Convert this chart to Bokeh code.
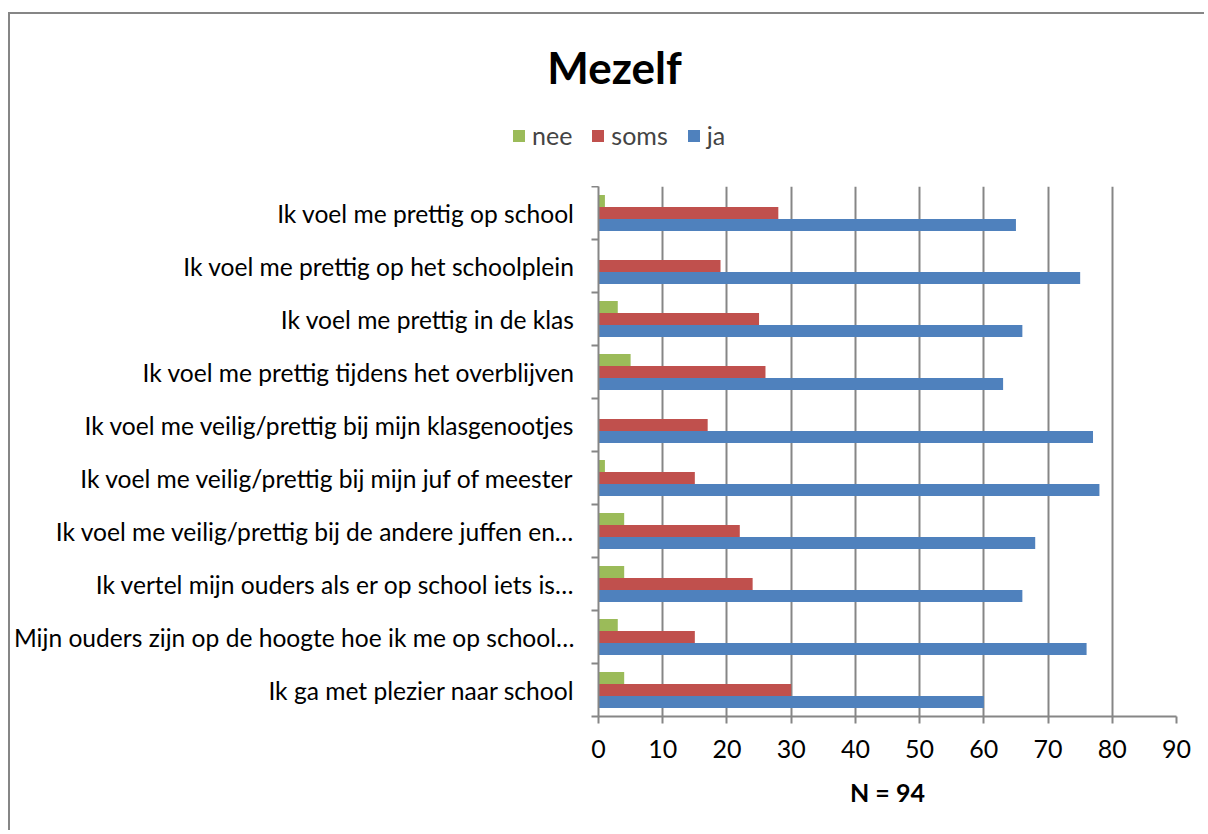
from bokeh.plotting import figure
from bokeh.models import (ColumnDataSource, Range1d, LinearAxis, FixedTicker, Legend,
                          LegendItem, Label)
from bokeh.transform import dodge
from bokeh.embed import file_html
from bokeh.resources import INLINE

categories = [
    "Ik voel me prettig op school",
    "Ik voel me prettig op het schoolplein",
    "Ik voel me prettig in de klas",
    "Ik voel me prettig tijdens het overblijven",
    "Ik voel me veilig/prettig bij mijn klasgenootjes",
    "Ik voel me veilig/prettig bij mijn juf of meester",
    "Ik voel me veilig/prettig bij de andere juffen en\u2026",
    "Ik vertel mijn ouders als er op school iets is\u2026",
    "Mijn ouders zijn op de hoogte hoe ik me op school\u2026",
    "Ik ga met plezier naar school",
]
series_names = ["nee", "soms", "ja"]
nee = [1, 0, 3, 5, 0, 1, 4, 4, 3, 4]
soms = [28, 19, 25, 26, 17, 15, 22, 24, 15, 30]
ja = [65, 75, 66, 63, 77, 78, 68, 66, 76, 60]
x_ticks = [0, 10, 20, 30, 40, 50, 60, 70, 80, 90]
title_text = "Mezelf"
x_label = "N = 94"

colors = {"nee": "#9BBB59", "soms": "#C0504D", "ja": "#4F81BD"}
FONT = "Lato"
GRAY = "#868686"
W = 1196
TOP_H = 174
LEFT = 587
RIGHT = 30

n = len(categories)
ypos = [n - 0.5 - i for i in range(n)]  # first category at the top
src = ColumnDataSource(dict(cat=categories, y=ypos, nee=nee, soms=soms, ja=ja))

bh = 0.226
offsets = {"nee": bh, "soms": 0.0, "ja": -bh}

# ---------- header figure: title + legend (its own root, frame = whole header) ----------
top = figure(width=W, height=TOP_H, x_range=Range1d(0, W), y_range=Range1d(0, TOP_H),
             output_backend="svg", toolbar_location=None,
             x_axis_location=None, y_axis_location=None,
             min_border_left=0, min_border_right=0, min_border_top=0, min_border_bottom=0)
top.outline_line_color = None
top.grid.visible = False
top.styles = {"border-left": f"2px solid {GRAY}", "border-top": f"2px solid {GRAY}",
              "margin-top": "12px", "margin-left": "8px"}
legend_renderers = {}
for s in series_names:
    legend_renderers[s] = top.hbar(y=dodge("y", offsets[s]), right=s, left=0, height=bh,
                                   source=src, fill_color=colors[s], line_color=None,
                                   visible=False)
legend = Legend(items=[LegendItem(label=s, renderers=[legend_renderers[s]]) for s in series_names],
                orientation="horizontal", location=(501, 38),
                label_text_font=FONT, label_text_font_size="25px",
                glyph_width=15, glyph_height=15, label_standoff=6, spacing=18,
                padding=0, margin=0, border_line_color=None, background_fill_alpha=0)
top.add_layout(legend, "center")
top.add_layout(Label(x=604, y=TOP_H - 52, text=title_text, text_align="center",
                     text_baseline="middle", text_font=FONT, text_font_size="44px",
                     text_font_style="bold", text_color="black"))

# ---------- chart figure ----------
p = figure(width=W, height=644,
           y_range=Range1d(0, n),
           x_range=Range1d(x_ticks[0], x_ticks[-1]),
           output_backend="svg", toolbar_location=None,
           x_axis_location=None, y_axis_location=None,
           min_border_left=LEFT, min_border_right=RIGHT,
           min_border_top=0, min_border_bottom=114)
p.outline_line_color = None
p.styles = {"border-left": f"2px solid {GRAY}", "margin-left": "8px"}

for s in series_names:
    p.hbar(y=dodge("y", offsets[s]), right=s, left=0,
           height=bh, source=src, fill_color=colors[s], line_color=None)

# separator ticks axis (adjacent to frame)
sep_axis = LinearAxis(ticker=FixedTicker(ticks=list(range(n + 1))),
                      major_label_text_font_size="0px", major_label_standoff=0,
                      major_tick_in=0, major_tick_out=7,
                      major_tick_line_color=GRAY, major_tick_line_width=2,
                      minor_tick_line_color=None,
                      axis_line_color=GRAY, axis_line_width=2)
p.add_layout(sep_axis, "left")

cat_axis = LinearAxis(ticker=FixedTicker(ticks=ypos),
                      major_label_overrides={y: c for y, c in zip(ypos, categories)},
                      axis_line_color=None, major_tick_line_color=None,
                      minor_tick_line_color=None,
                      major_label_text_font=FONT, major_label_text_font_size="24.6px",
                      major_label_text_color="black", major_label_standoff=11)
p.add_layout(cat_axis, "left")

x_axis = LinearAxis(ticker=FixedTicker(ticks=x_ticks), axis_label=x_label,
                    axis_label_text_font=FONT, axis_label_text_font_size="25px",
                    axis_label_text_font_style="bold", axis_label_text_color="black",
                    axis_label_standoff=16,
                    major_label_text_font=FONT, major_label_text_font_size="25px",
                    major_label_text_color="black", major_label_standoff=16,
                    major_tick_in=0, major_tick_out=7,
                    major_tick_line_color=GRAY, major_tick_line_width=2,
                    minor_tick_line_color=None,
                    axis_line_color=GRAY, axis_line_width=2)
p.add_layout(x_axis, "below")

p.xgrid.grid_line_color = GRAY
p.xgrid.grid_line_width = 2
p.xgrid.ticker = FixedTicker(ticks=x_ticks)
p.ygrid.grid_line_color = None

open("out.html", "w").write(file_html([top, p], INLINE))
